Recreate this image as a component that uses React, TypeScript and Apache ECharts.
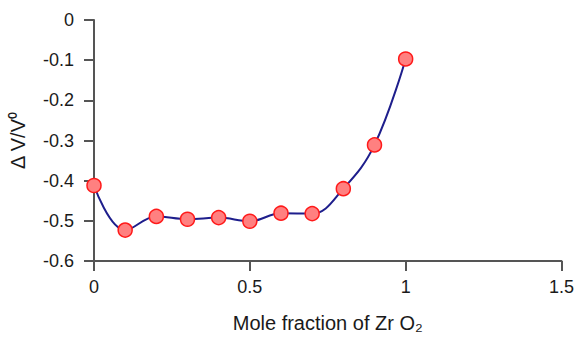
import React, { useEffect, useRef } from "react";
import * as echarts from "echarts";

const xValues = [0, 0.1, 0.2, 0.3, 0.4, 0.5, 0.6, 0.7, 0.8, 0.9, 1.0];
const yValues = [-0.412, -0.523, -0.489, -0.496, -0.492, -0.501, -0.481, -0.482, -0.42, -0.311, -0.097];
const xAxisTitle = "Mole fraction of Zr O\u2082";
const yAxisTitle = "\u0394 V/V\u2070";

export default function App() {
  const ref = useRef<HTMLDivElement>(null);
  useEffect(() => {
    if (!ref.current) return;
    const chart = echarts.init(ref.current, undefined, { renderer: "svg" });
    const font = "'Liberation Sans', Arial, sans-serif";
    chart.setOption({
      animation: false,
      grid: { left: 94, right: 9, top: 20, bottom: 74, containLabel: false },
      xAxis: {
        type: "value",
        min: 0,
        max: 1.5,
        interval: 0.5,
        name: xAxisTitle,
        nameLocation: "middle",
        nameGap: 52,
        nameTextStyle: { fontSize: 20, color: "#1a1a1a", fontFamily: font },
        axisLine: { show: true, onZero: false, lineStyle: { color: "#555", width: 2 } },
        axisTick: { show: true, inside: false, length: 10, lineStyle: { color: "#555", width: 2 } },
        axisLabel: { fontSize: 18, color: "#1a1a1a", fontFamily: font, margin: 17 },
        splitLine: { show: false },
      },
      yAxis: {
        type: "value",
        min: -0.6,
        max: 0,
        interval: 0.1,
        name: yAxisTitle,
        nameLocation: "middle",
        nameGap: 66,
        nameTextStyle: { fontSize: 20, color: "#1a1a1a", fontFamily: font },
        axisLine: { show: true, onZero: false, lineStyle: { color: "#555", width: 2 } },
        axisTick: { show: true, inside: false, length: 10, lineStyle: { color: "#555", width: 2 } },
        axisLabel: {
          fontSize: 18,
          color: "#1a1a1a",
          fontFamily: font,
          margin: 20,
          formatter: (v: number) => (Math.abs(v) < 1e-9 ? "0" : String(Math.round(v * 10) / 10)),
        },
        splitLine: { show: false },
      },
      series: [
        {
          type: "line",
          data: xValues.map((x, i) => [x, yValues[i]]),
          smooth: 0.4,
          symbol: "circle",
          symbolSize: 14,
          lineStyle: { color: "#1e1e8c", width: 2 },
          itemStyle: { color: "#ff8080", borderColor: "#ff1a1a", borderWidth: 1.5 },
        },
      ],
    });
    return () => chart.dispose();
  }, []);
  return <div ref={ref} style={{ width: 577, height: 338, position: "absolute", left: 0, top: 0, background: "#fff" }} />;
}
